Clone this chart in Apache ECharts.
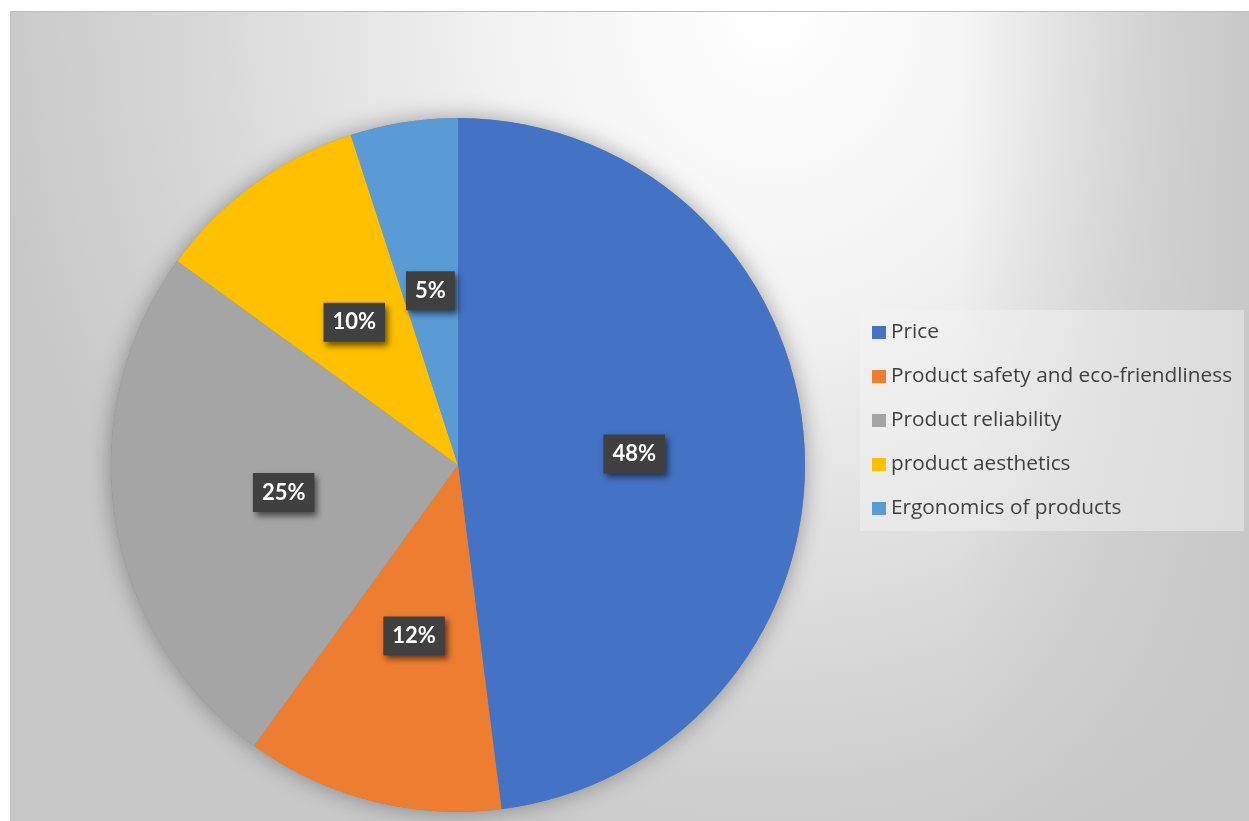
<!DOCTYPE html>
<html>
<head>
<meta charset="utf-8">
<script src="https://cdn.jsdelivr.net/npm/echarts@6/dist/echarts.min.js"></script>
<style>
  html, body { margin: 0; padding: 0; width: 1249px; height: 821px; background: #ffffff; overflow: hidden; }
  #frame {
    position: absolute; left: 10px; top: 11px; width: 1239px; height: 810px;
    border-top: 1px solid #bfbfbf; border-left: 1px solid #c4c4c4; box-sizing: border-box;
    background:
      linear-gradient(to right, rgba(200,200,200,0) 0px, rgba(200,200,200,0) 950px, rgba(200,200,200,1) 1239px),
      radial-gradient(ellipse 780px 880px at 760px 0px, #ffffff 0%, #f2f2f2 35%, #dadada 70%, #c8c8c8 100%);
  }
  #chart { position: absolute; left: 0; top: 0; width: 1249px; height: 821px; }
</style>
</head>
<body>
<div id="frame"></div>
<div id="chart"></div>
<script>
const categories = ['Price', 'Product safety and eco-friendliness', 'Product reliability', 'product aesthetics', 'Ergonomics of products'];
const shares = [48, 12, 25, 10, 5];
const colors = ['#4472C4', '#ED7D31', '#A5A5A5', '#FFC000', '#5B9BD5'];

const chart = echarts.init(document.getElementById('chart'), null, { renderer: 'canvas' });
const center = [458, 465];
const radius = 347;

chart.setOption({
  backgroundColor: 'transparent',
  animation: false,
  legend: {
    orient: 'vertical',
    left: 860,
    top: 310,
    data: categories,
    icon: 'rect',
    itemWidth: 14,
    itemHeight: 13,
    itemGap: 23,
    padding: [12, 12, 12, 12],
    backgroundColor: 'rgba(245,245,245,0.45)',
    textStyle: { fontFamily: '"Open Sans", sans-serif', fontSize: 20.8, color: '#404040', lineHeight: 20 },
    selectedMode: false
  },
  series: [
    {
      type: 'pie',
      silent: true,
      center: center,
      radius: radius,
      label: { show: false },
      labelLine: { show: false },
      itemStyle: { color: '#888', shadowBlur: 22, shadowColor: 'rgba(0,0,0,0.35)' },
      data: [{ value: 1, name: '_shadow' }],
      z: 1
    },
    {
      type: 'pie',
      center: center,
      radius: radius,
      startAngle: 90,
      clockwise: true,
      z: 2,
      data: categories.map((c, i) => ({ name: c, value: shares[i], itemStyle: { color: colors[i] } })),
      itemStyle: { borderWidth: 0 },
      label: {
        show: true,
        position: 'inside',
        formatter: p => p.value + '%',
        fontFamily: 'Lato, "Open Sans", sans-serif',
        fontWeight: 'bold',
        fontSize: 22,
        lineHeight: 26,
        color: '#ffffff',
        backgroundColor: '#404040',
        padding: [7, 9, 6, 9],
        shadowColor: 'rgba(0,0,0,0.55)',
        shadowBlur: 6,
        shadowOffsetX: 3,
        shadowOffsetY: 4
      },
      labelLine: { show: false },
      emphasis: { disabled: true }
    }
  ]
});
</script>
</body>
</html>
